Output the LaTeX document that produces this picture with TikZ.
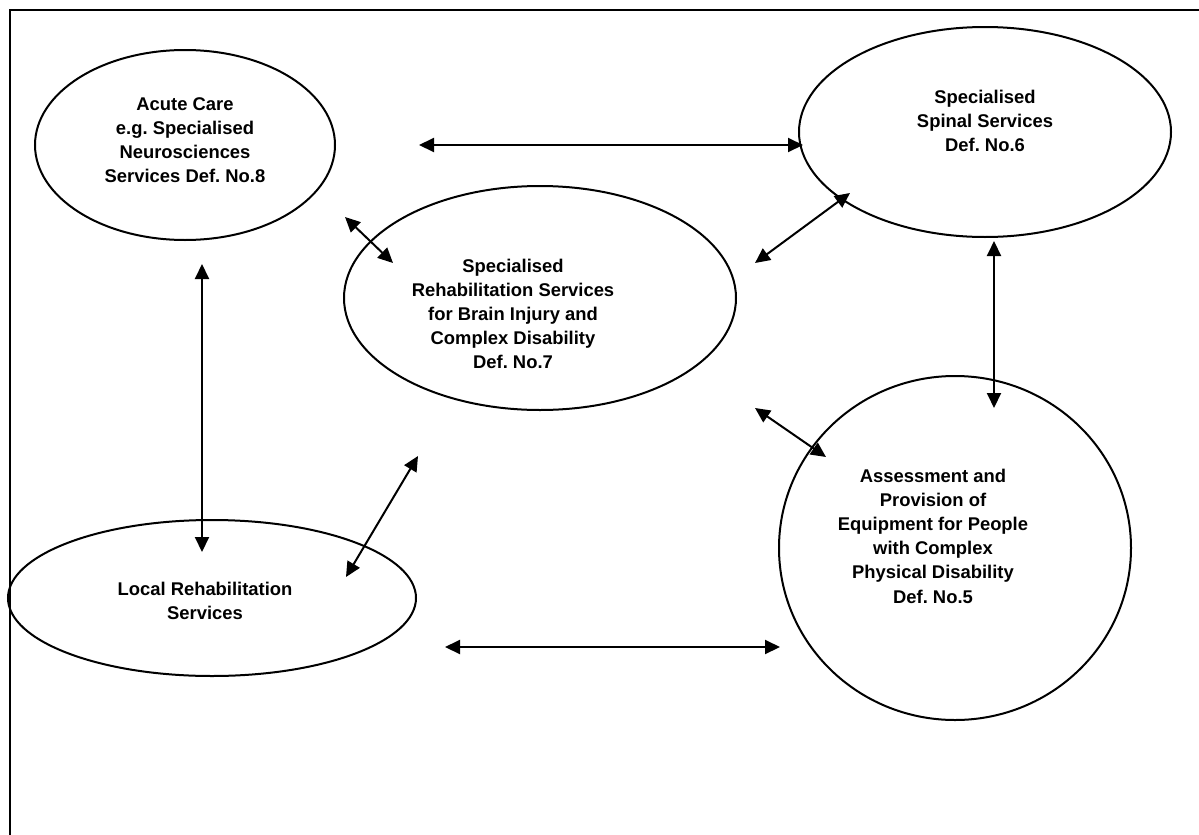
\documentclass[tikz,border=0pt]{standalone}
\usepackage{fontspec}
\setmainfont{Liberation Sans}
\usetikzlibrary{shapes.geometric,arrows.meta}
\frenchspacing
\begin{document}
\begin{tikzpicture}[x=0.5pt,y=-0.5pt,
  bubble/.style={ellipse,draw,line width=1pt,inner sep=0pt},
  btext/.style={align=center,inner sep=0pt,font=\bfseries\fontsize{9.2}{12.1}\selectfont},
  link/.style={line width=1pt,{Triangle[length=7.5pt,width=7pt]}-{Triangle[length=7.5pt,width=7pt]}}]
\useasboundingbox (0,0) rectangle (1199,835);
\draw[line width=1pt] (10,900) -- (10,10) -- (1300,10);
\node[bubble,minimum width=150pt,minimum height=95pt,
  label={[btext,yshift=2.5pt]center:{Acute Care\\e.g. Specialised\\Neurosciences\\Services Def. No.8}}] (acute) at (185,145) {};
\node[bubble,minimum width=186pt,minimum height=105pt,
  label={[btext,yshift=5.5pt]center:{Specialised\\Spinal Services\\Def. No.6}}] (spinal) at (985,132) {};
\node[bubble,minimum width=196pt,minimum height=112pt,
  label={[btext,xshift=-13.5pt,yshift=-8pt]center:{Specialised\\Rehabilitation Services\\for Brain Injury and\\Complex Disability\\Def. No.7}}] (rehab) at (540,298) {};
\node[bubble,minimum width=176pt,minimum height=172pt,
  label={[btext,xshift=-11pt,yshift=6pt]center:{Assessment and\\Provision of\\Equipment for People\\with Complex\\Physical Disability\\Def. No.5}}] (equip) at (955,548) {};
\node[bubble,minimum width=204pt,minimum height=78pt,
  label={[btext,xshift=-3.5pt,yshift=-1.5pt]center:{Local Rehabilitation\\Services}}] (local) at (212,598) {};
\coordinate (a1) at (419,145); \coordinate (a2) at (803,145);
\coordinate (b1) at (345,217); \coordinate (b2) at (393,263);
\coordinate (c1) at (850,193); \coordinate (c2) at (755,263);
\coordinate (d1) at (202,264); \coordinate (d2) at (202,552);
\coordinate (e1) at (418,456); \coordinate (e2) at (346,577);
\coordinate (f1) at (755,408); \coordinate (f2) at (826,457);
\coordinate (g1) at (994,241); \coordinate (g2) at (994,408);
\coordinate (h1) at (445,647); \coordinate (h2) at (780,647);
\draw[link] (a1) -- (a2);
\draw[link] (b1) -- (b2);
\draw[link] (c1) -- (c2);
\draw[link] (d1) -- (d2);
\draw[link] (e1) -- (e2);
\draw[link] (f1) -- (f2);
\draw[link] (g1) -- (g2);
\draw[link] (h1) -- (h2);
\end{tikzpicture}
\end{document}
